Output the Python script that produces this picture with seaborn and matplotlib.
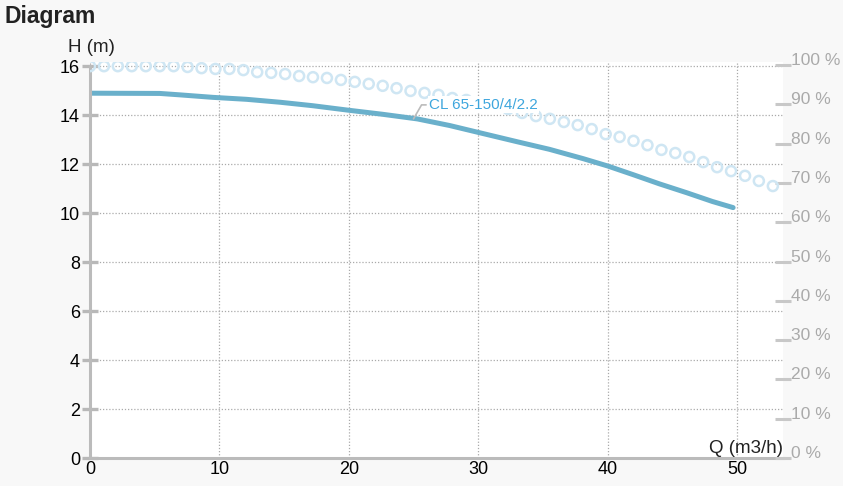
import matplotlib
matplotlib.use("Agg")
import matplotlib.pyplot as plt
import seaborn as sns

# Pump curve CL 65-150/4/2.2: head H (m) against flow Q (m3/h)
q_head = [0, 5.4, 7.0, 9.5, 12.1, 14.7, 17.2, 19.9, 22.6, 25.3, 27.8,
          30.0, 33.0, 35.5, 38.1, 40.0, 42.0, 44.0, 46.1, 48.1, 49.7]
head = [14.89, 14.88, 14.82, 14.72, 14.64, 14.52, 14.38, 14.20, 14.03, 13.84, 13.57,
        13.29, 12.91, 12.60, 12.22, 11.92, 11.56, 11.19, 10.83, 10.47, 10.22]

# Efficiency curve (%) read from the dotted series, right axis
q_eff = [0.00, 1.08, 2.15, 3.23, 4.31, 5.39, 6.46, 7.54, 8.62, 9.69,
         10.77, 11.85, 12.92, 14.00, 15.08, 16.16, 17.23, 18.31, 19.39, 20.46,
         21.54, 22.62, 23.69, 24.77, 25.85, 26.93, 28.00, 29.08, 30.16, 31.23,
         32.31, 33.39, 34.46, 35.54, 36.62, 37.69, 38.77, 39.85, 40.93, 42.00,
         43.08, 44.16, 45.23, 46.31, 47.39, 48.46, 49.54, 50.62, 51.69, 52.77]
eff = [99.7, 99.7, 99.7, 99.7, 99.7, 99.7, 99.7, 99.5, 99.2, 99.0,
       99.0, 98.7, 98.2, 98.0, 97.7, 97.2, 96.9, 96.7, 96.2, 95.7,
       95.2, 94.7, 94.1, 93.4, 92.9, 92.4, 91.6, 91.1, 90.3, 89.6,
       88.8, 87.8, 87.0, 86.3, 85.5, 84.7, 83.7, 82.4, 81.7, 80.7,
       79.6, 78.4, 77.6, 76.6, 75.3, 74.0, 73.0, 71.8, 70.5, 69.2]

x_ticks = [0, 10, 20, 30, 40, 50]
h_ticks = [0, 2, 4, 6, 8, 10, 12, 14, 16]
pct_ticks = [0, 10, 20, 30, 40, 50, 60, 70, 80, 90, 100]
pct_labels = [f"{p} %" for p in pct_ticks]

curve_color = "#6ab0cb"
dot_color = "#cfe6f3"
axis_gray = "#bbbbbb"

sns.set_theme(style="white")
plt.rcParams["font.family"] = ["Liberation Sans", "DejaVu Sans"]

fig = plt.figure(figsize=(8.43, 4.86), dpi=100, facecolor="#f8f8f8")
ax = fig.add_axes([90 / 843, 28 / 486, 693 / 843, 396 / 486])
ax.set_facecolor("white")

sns.lineplot(x=q_head, y=head, ax=ax, color=curve_color, linewidth=3.6)

ax.set_xlim(0, 693 / 12.94)
ax.set_ylim(0, 396 / 24.5)
ax.set_xticks(x_ticks)
ax.set_yticks(h_ticks)
ax.tick_params(axis="x", direction="in", length=5, width=1.6, color="black",
               labelsize=13, labelcolor="black", pad=2.5)
ax.tick_params(axis="y", direction="inout", length=11.5, width=2.4, color="#b8b8b8",
               labelsize=13, labelcolor="black", pad=1.5)
ax.grid(True, linestyle=(0, (1, 1.5)), color="#aaaaaa", linewidth=0.9)
for side in ["top", "right"]:
    ax.spines[side].set_visible(False)
for side in ["left", "bottom"]:
    ax.spines[side].set_color(axis_gray)
    ax.spines[side].set_linewidth(2.2)
ax.spines["left"].set_bounds(0, 16)
ax.set_xlabel("")
ax.set_ylabel("")

# Right axis for efficiency
ax2 = ax.twinx()
sns.scatterplot(x=q_eff, y=eff, ax=ax2, s=52, facecolor="none",
                edgecolor=dot_color, linewidth=1.8, zorder=3)
ax2.set_ylim(0, 396 / 3.93)
ax2.set_yticks(pct_ticks, pct_labels, va="baseline")
ax2.tick_params(axis="y", direction="inout", length=11, width=2.2, color="#c8c8c8",
                labelsize=12.5, labelcolor="#aaaaaa", pad=0)
for side in ["top", "right", "left", "bottom"]:
    ax2.spines[side].set_visible(False)
ax2.set_ylabel("")

ax2.annotate("CL 65-150/4/2.2", xy=(25.0, 13.84 * 100.76 / 16.16),
             xytext=(26.2, 14.41 * 100.76 / 16.16), ha="left", va="center",
             fontsize=11, color="#3ea6dd", zorder=5,
             bbox=dict(boxstyle="square,pad=0.1", fc="white", ec="none"),
             arrowprops=dict(arrowstyle="-", color="#bbbbbb", lw=1.2,
                             shrinkA=1, shrinkB=0,
                             connectionstyle="angle,angleA=0,angleB=60,rad=0"))

fig.text(5 / 843, 1 - 17 / 486, "Diagram", fontsize=16.5, fontweight="bold",
         color="#222222", ha="left", va="center")
fig.text(68 / 843, 1 - 48 / 486, "H (m)", fontsize=13.5, color="#222222",
         ha="left", va="center")
fig.text(783 / 843, 1 - 448 / 486, "Q (m3/h)", fontsize=13.5, color="#222222",
         ha="right", va="center")

plt.savefig("out.png", dpi=100, facecolor=fig.get_facecolor())
